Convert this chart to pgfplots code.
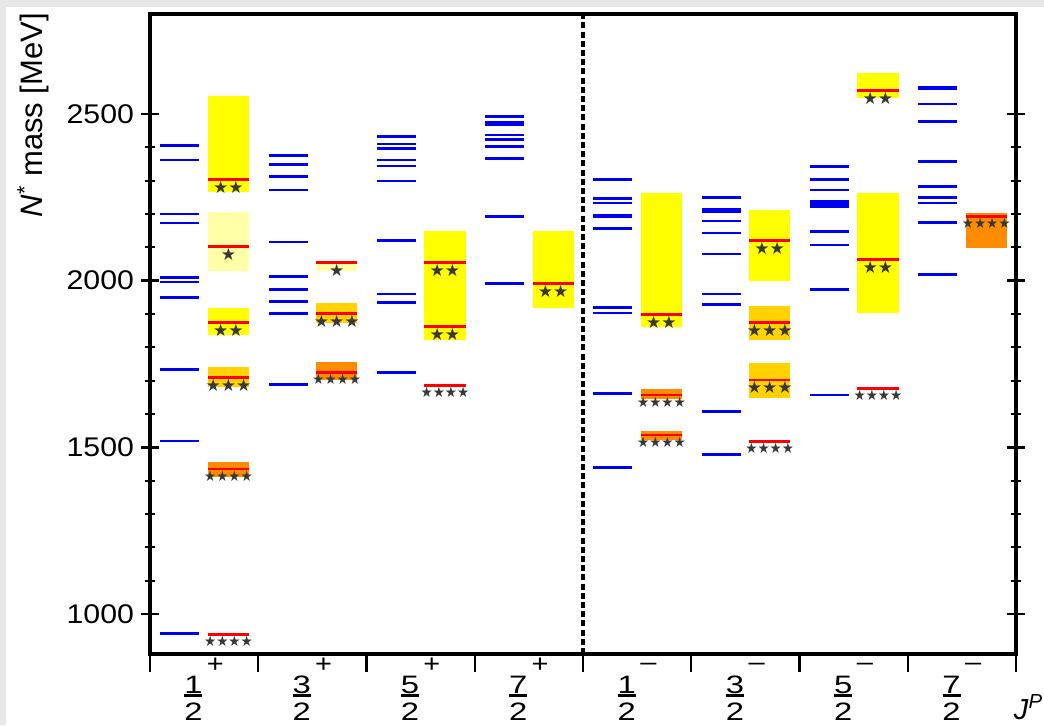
\documentclass[border=0pt]{standalone}
\usepackage{fontspec}
\setmainfont{Liberation Sans}
\newfontfamily\starfont{DejaVu Sans}
\usepackage{graphicx}
\usepackage{pgfplots}
\pgfplotsset{compat=1.18}
\definecolor{pdgY}{RGB}{255,255,0}
\definecolor{pdgP}{RGB}{255,255,168}
\definecolor{pdgG}{RGB}{255,210,0}
\definecolor{pdgO}{RGB}{255,140,0}
\definecolor{bgc}{RGB}{232,232,232}
\definecolor{thblue}{RGB}{0,0,240}
% stacked fraction J with parity sign
\newcommand\jp[3]{\hbox{\fontsize{12.6}{14}\selectfont
  \vtop{\offinterlineskip
    \hbox to 9pt{\hss\vrule width0pt height 18pt depth 0pt \scalebox{1.3}[1]{#1}\hss}%
    \kern0.4pt
    \hrule width 9pt height 1.2pt
    \kern2.9pt
    \hbox to 9pt{\hss\vrule width0pt height 9pt depth 0pt \scalebox{1.3}[1]{2}\hss}}%
  \kern2.3pt\raisebox{#3}{\scalebox{1.15}[1]{#2}}}}
\pgfplotsset{
  boxes/.style={draw=none, mark=none, forget plot,
    error bars/.cd, y dir=both, y explicit, error mark=none,
    error bar style={line width=20.57pt, draw=#1}},
  hlines/.style 2 args={draw=none, mark=none, forget plot,
    error bars/.cd, x dir=both, x explicit, error mark=none,
    error bar style={line width=#2, draw=#1}},
  starlab/.style={draw=none, mark=none, forget plot,
    nodes near coords={#1},
    nodes near coords style={anchor=north, inner sep=0pt, yshift=-0.6pt, text=black!78, font=\starfont\fontsize{8.5}{9}\selectfont}},
}
\begin{document}
\begin{tikzpicture}
\useasboundingbox (-75pt,-35.5pt) rectangle (447pt,327pt);
\fill[bgc] (-75pt,-35.5pt) rectangle (447pt,327pt);
\fill[white] (-72pt,-35.5pt) rectangle (447pt,323.5pt);
\begin{axis}[
  scale only axis, width=433pt, height=320pt,
  xmin=0, xmax=8, ymin=880, ymax=2800,
  axis on top,
  axis line style={line width=1.6pt},
  tick align=center,
  major tick length=9pt, minor tick length=5pt,
  every tick/.style={line width=1.2pt, black},
  minor tick style={line width=1pt},
  ytick={1000,1500,2000,2500}, minor y tick num=4,
  xtick={0,1,2,3,4,5,6,7,8}, xticklabels={},
  xtick pos=bottom,
  xtick style={yshift=-4.5pt},
  extra x ticks={0.5,1.5,2.5,3.5,4.5,5.5,6.5,7.5},
  extra x tick labels={\jp{1}{+}{10.6pt},\jp{3}{+}{10.6pt},\jp{5}{+}{10.6pt},\jp{7}{+}{10.6pt},\jp{1}{–}{11.3pt},\jp{3}{–}{11.3pt},\jp{5}{–}{11.3pt},\jp{7}{–}{11.3pt}},
  extra x tick style={major tick length=0pt, xtick style={yshift=0pt}},
  xticklabel style={inner sep=0pt, yshift=-1.5pt},
  /pgf/number format/assume math mode=true,
  /pgf/number format/set thousands separator={},
  yticklabel={\scalebox{1.12}[1]{\pgfmathprintnumber{\tick}}},
  yticklabel style={font=\fontsize{13.5}{16}\selectfont},
  ylabel={\textit{N}\textsuperscript{*} mass [MeV]},
  ylabel style={font=\fontsize{15.5}{17}\selectfont, at={(axis description cs:-0.1351,1.002)}, anchor=east, inner sep=0pt},
  xlabel={\textit{J}\textsuperscript{\textit{P}}},
  xlabel style={font=\fontsize{14.5}{16}\selectfont, at={(axis description cs:0.997,-0.102)}, anchor=base west, inner sep=0pt},
]
% PDG boxes
\addplot[boxes=pdgY] coordinates {
 (0.725,2410) +- (0,143)  (0.725,1878.5) +- (0,40.5)
 (2.725,1986) +- (0,164)  (3.725,2034.5) +- (0,115.5)
 (4.725,2061.5) +- (0,201.5) (5.725,2106) +- (0,106)
 (6.725,2585.5) +- (0,37.5) (6.725,2082) +- (0,180)
};
\addplot[boxes=pdgP] coordinates {
 (0.725,2117.5) +- (0,87.5) (1.725,2045) +- (0,15)
};
\addplot[boxes=pdgG] coordinates {
 (0.725,1710) +- (0,30) (1.725,1903) +- (0,30)
 (5.725,1872.5) +- (0,50.5) (5.725,1701) +- (0,53)
};
\addplot[boxes=pdgO] coordinates {
 (0.725,1433.5) +- (0,21.5) (0.725,939) +- (0,3)
 (1.725,1728.5) +- (0,26.5) (2.725,1686) +- (0,5)
 (4.725,1660) +- (0,15) (4.725,1535) +- (0,13)
 (5.725,1518) +- (0,4) (6.725,1676) +- (0,5)
 (7.725,2150.5) +- (0,52.5)
};
% PDG masses
\addplot[hlines={red}{1.3pt}] coordinates {
 (0.725,2303) +- (0.19,0) (0.725,2103) +- (0.19,0) (0.725,1875) +- (0.19,0)
 (0.725,1710) +- (0.19,0) (0.725,1435) +- (0.19,0) (0.725,939) +- (0.19,0)
 (1.725,2054) +- (0.19,0) (1.725,1902) +- (0.19,0) (1.725,1725) +- (0.19,0)
 (2.725,2055) +- (0.19,0) (2.725,1862) +- (0.19,0) (2.725,1686) +- (0.19,0)
 (3.725,1992) +- (0.19,0)
 (4.725,1898) +- (0.19,0) (4.725,1657) +- (0.19,0) (4.725,1537) +- (0.19,0)
 (5.725,2121) +- (0.19,0) (5.725,1875) +- (0.19,0) (5.725,1702) +- (0.19,0) (5.725,1518) +- (0.19,0)
 (6.725,2571) +- (0.19,0) (6.725,2063) +- (0.19,0) (6.725,1676) +- (0.19,0)
 (7.725,2192) +- (0.19,0)
};
% star ratings
\addplot[starlab={★}] coordinates {(0.725,2103) (1.725,2054)};
\addplot[starlab={★★}] coordinates {(0.725,2303) (0.725,1875) (2.725,2055) (2.725,1862) (3.725,1992) (4.725,1898) (5.725,2121) (6.725,2571) (6.725,2063)};
\addplot[starlab={★★★}] coordinates {(0.725,1710) (1.725,1902) (5.725,1875) (5.725,1702)};
\addplot[starlab={\scalebox{0.8}[0.85]{★★★★}}] coordinates {(0.725,1435) (0.725,939) (1.725,1725) (2.725,1686) (4.725,1657) (4.725,1537) (5.725,1518) (6.725,1676) (7.725,2192)};
% model states
\addplot[hlines={thblue}{1.4pt}] coordinates {
 (0.275,2405) +- (0.18,0) (0.275,2362) +- (0.18,0) (0.275,2200) +- (0.18,0) (0.275,2173) +- (0.18,0)
 (0.275,2009) +- (0.18,0) (0.275,1996) +- (0.18,0) (0.275,1950) +- (0.18,0) (0.275,1733) +- (0.18,0)
 (0.275,1519) +- (0.18,0) (0.275,941) +- (0.18,0)
 (1.275,2375) +- (0.18,0) (1.275,2348) +- (0.18,0) (1.275,2312) +- (0.18,0) (1.275,2272) +- (0.18,0)
 (1.275,2116) +- (0.18,0) (1.275,2013) +- (0.18,0) (1.275,1973) +- (0.18,0) (1.275,1938) +- (0.18,0)
 (1.275,1902) +- (0.18,0) (1.275,1688) +- (0.18,0)
 (2.275,2433) +- (0.18,0) (2.275,2410) +- (0.18,0) (2.275,2397) +- (0.18,0) (2.275,2362) +- (0.18,0)
 (2.275,2344) +- (0.18,0) (2.275,2299) +- (0.18,0) (2.275,2120) +- (0.18,0) (2.275,1960) +- (0.18,0)
 (2.275,1934) +- (0.18,0) (2.275,1725) +- (0.18,0)
 (3.275,2493) +- (0.18,0) (3.275,2474) +- (0.18,0) (3.275,2468) +- (0.18,0) (3.275,2437) +- (0.18,0)
 (3.275,2424) +- (0.18,0) (3.275,2402) +- (0.18,0) (3.275,2366) +- (0.18,0) (3.275,2193) +- (0.18,0)
 (3.275,1992) +- (0.18,0)
 (4.275,2303) +- (0.18,0) (4.275,2247) +- (0.18,0) (4.275,2233) +- (0.18,0) (4.275,2196) +- (0.18,0)
 (4.275,2191) +- (0.18,0) (4.275,2157) +- (0.18,0) (4.275,1920) +- (0.18,0) (4.275,1903) +- (0.18,0)
 (4.275,1662) +- (0.18,0) (4.275,1440) +- (0.18,0)
 (5.275,2250) +- (0.18,0) (5.275,2214) +- (0.18,0) (5.275,2208) +- (0.18,0) (5.275,2179) +- (0.18,0)
 (5.275,2143) +- (0.18,0) (5.275,2080) +- (0.18,0) (5.275,1960) +- (0.18,0) (5.275,1929) +- (0.18,0)
 (5.275,1608) +- (0.18,0) (5.275,1478) +- (0.18,0)
 (6.275,2343) +- (0.18,0) (6.275,2303) +- (0.18,0) (6.275,2272) +- (0.18,0) (6.275,2238) +- (0.18,0)
 (6.275,2229) +- (0.18,0) (6.275,2221) +- (0.18,0) (6.275,2147) +- (0.18,0) (6.275,2107) +- (0.18,0)
 (6.275,1974) +- (0.18,0) (6.275,1657) +- (0.18,0)
 (7.275,2579) +- (0.18,0) (7.275,2575) +- (0.18,0) (7.275,2530) +- (0.18,0) (7.275,2477) +- (0.18,0)
 (7.275,2357) +- (0.18,0) (7.275,2282) +- (0.18,0) (7.275,2249) +- (0.18,0) (7.275,2233) +- (0.18,0)
 (7.275,2174) +- (0.18,0) (7.275,2018) +- (0.18,0)
};
% parity separator
\addplot[black, line width=1.8pt, dash pattern=on 3pt off 1.6pt, forget plot] coordinates {(4,880) (4,2800)};
\end{axis}
\end{tikzpicture}
\end{document}
